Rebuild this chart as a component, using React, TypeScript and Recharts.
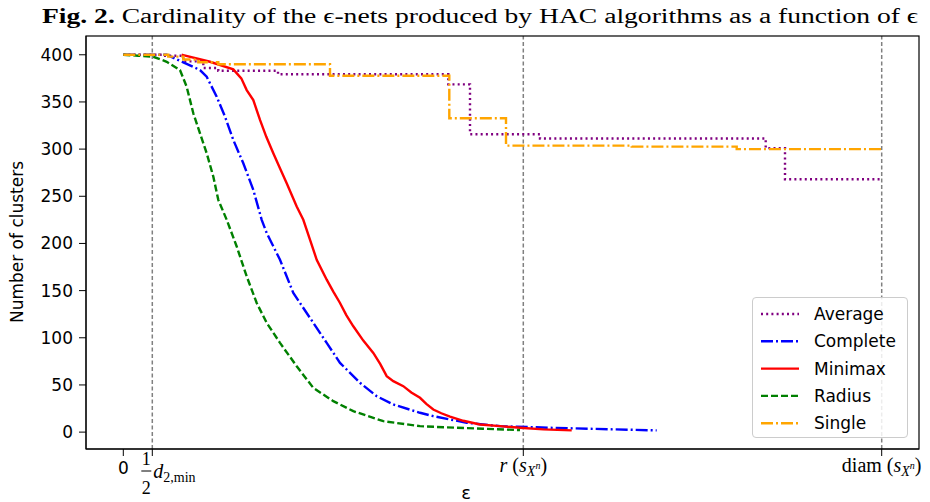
import React from 'react';
import { ComposedChart, Line, XAxis, YAxis, ReferenceLine, Legend } from 'recharts';

// ---- data (x in arbitrary epsilon units; r = 400, diam = 758.4) ----
const halfD2min = 29;
const radiusR = 400;
const diam = 758.4;

const averageX = [0, 40, 60, 80, 95, 154.7, 325, 346.7, 416.7, 642.4, 661.7, 758.4];
const averageY = [400, 399, 393, 386, 383, 379.3, 368.6, 315.8, 311.2, 301, 268, 268];

const singleX = [0, 45, 60, 75, 95, 206.7, 326, 382.7, 508.4, 613.4, 758.4];
const singleY = [400, 398, 395, 392, 390, 377.8, 332.7, 303.7, 302.6, 300, 300];

const completeX = [0, 43.4, 60, 76.7, 83.4, 93.4, 101.7, 110, 120, 130, 138.4, 143.4, 156.7, 170, 183.4, 203.4, 216.7, 236.7, 253.4, 270, 296.7, 310, 343.4, 376.7, 426.7, 533.4];
const completeY = [400, 400, 392, 383.8, 376.7, 355.6, 334.4, 309.7, 285, 256.8, 225, 211, 182.7, 147.5, 126.3, 94.6, 73.4, 52.3, 38.1, 29.3, 20.5, 16.9, 9.9, 6.3, 4.6, 1.8];

const minimaxX = [58.4, 60, 86.7, 110, 118, 123.4, 130, 136.7, 143, 150, 157, 163.4, 173.4, 180, 187, 193.4, 203.4, 210, 216.7, 223, 230, 240, 250, 257, 263.4, 270, 280, 288, 296.7, 303, 310, 318, 326.7, 340, 356.7, 376.7, 396.7, 420, 448.4];
const minimaxY = [400, 399.7, 392.6, 384.5, 375, 362.6, 352, 330.9, 313, 295.6, 279, 263.9, 239.2, 225.1, 203, 182.7, 161.6, 149, 136.9, 124, 112.2, 97, 84, 72, 59.3, 54, 48.7, 42, 36.4, 30, 24, 20, 16.3, 12, 8.1, 6.3, 4.6, 2.9, 1.8];

const radiusX = [0, 15, 30, 43.4, 56.7, 63.4, 70, 76.7, 83.4, 90, 95, 103.4, 113.4, 123.4, 133.4, 143.4, 156.7, 173.4, 190, 210, 230, 260, 296.7, 320, 360, 396.7];
const radiusY = [400, 399, 397.9, 392.6, 383.8, 366, 338, 316.8, 295.6, 270.9, 246.2, 225.1, 196.8, 165.1, 136.9, 115.8, 94.6, 69.8, 46.9, 32.8, 22.2, 11.6, 6.3, 5.2, 3.6, 2.1];

const yTicks = [0, 50, 100, 150, 200, 250, 300, 350, 400];
const xTicks = [0, halfD2min, radiusR, diam];

const zip = (xs: number[], ys: number[]) => xs.map((x, i) => ({ x, y: ys[i] }));

const series = [
  { name: 'Average', data: zip(averageX, averageY), color: '#800080', dash: '2 3.2', type: 'stepAfter' as const },
  { name: 'Complete', data: zip(completeX, completeY), color: '#0000ff', dash: '12 3 2 3', type: 'linear' as const },
  { name: 'Minimax', data: zip(minimaxX, minimaxY), color: '#ff0000', dash: undefined, type: 'linear' as const },
  { name: 'Radius', data: zip(radiusX, radiusY), color: '#008000', dash: '7 3', type: 'linear' as const },
  { name: 'Single', data: zip(singleX, singleY), color: '#ffa500', dash: '12 3 2 3', type: 'stepAfter' as const },
];

const SANS = 'DejaVu Sans, sans-serif';
const SERIF = 'Liberation Serif, DejaVu Serif, serif';

const XTick = (props: any) => {
  const { x, y, payload } = props;
  const v = payload.value;
  if (v === 0) {
    return (
      <text x={x} y={y + 18} textAnchor="middle" fontFamily={SANS} fontSize={17} fill="#000">0</text>
    );
  }
  if (v === halfD2min) {
    return (
      <g fontFamily={SERIF} fill="#000">
        <text x={x - 6} y={y + 9} textAnchor="middle" fontSize={18}>1</text>
        <line x1={x - 11} x2={x - 1} y1={y + 15} y2={y + 15} stroke="#000" strokeWidth={1} />
        <text x={x - 6} y={y + 38} textAnchor="middle" fontSize={18}>2</text>
        <text x={x + 1} y={y + 22} fontSize={20} fontStyle="italic">d<tspan fontSize={14} fontStyle="normal" dy={4}>2,min</tspan></text>
      </g>
    );
  }
  if (v === radiusR) {
    return (
      <text x={x} y={y + 16} textAnchor="middle" fontFamily={SERIF} fontSize={20} fill="#000">
        <tspan fontStyle="italic">r</tspan>
        <tspan>&#160;(</tspan>
        <tspan fontStyle="italic">s</tspan>
        <tspan fontSize={14} fontStyle="italic" dy={4}>X</tspan>
        <tspan fontSize={10} fontStyle="italic" dy={-7}>n</tspan>
        <tspan dy={3}>)</tspan>
      </text>
    );
  }
  return (
    <text x={x} y={y + 16} textAnchor="middle" fontFamily={SERIF} fontSize={20} fill="#000">
      <tspan>diam&#160;(</tspan>
      <tspan fontStyle="italic">s</tspan>
      <tspan fontSize={14} fontStyle="italic" dy={4}>X</tspan>
      <tspan fontSize={10} fontStyle="italic" dy={-7}>n</tspan>
      <tspan dy={3}>)</tspan>
    </text>
  );
};

const LegendBox = () => (
  <div
    style={{
      width: 156,
      height: 141,
      background: 'rgba(255,255,255,0.85)',
      border: '1px solid #cccccc',
      borderRadius: 4,
      boxSizing: 'border-box',
      position: 'relative',
    }}
  >
    <svg width={156} height={141} style={{ position: 'absolute', left: 0, top: 0 }}>
      {series.map((s, i) => {
        const cy = 16 + i * 27.3;
        return (
          <g key={s.name}>
            <line x1={8} x2={46} y1={cy} y2={cy} stroke={s.color} strokeWidth={2.4} strokeDasharray={s.dash} />
            <text x={61} y={cy + 6} fontFamily={SANS} fontSize={17} fill="#000">{s.name}</text>
          </g>
        );
      })}
    </svg>
  </div>
);

export default function App() {
  return (
    <div style={{ position: 'absolute', left: 0, top: 0, width: 930, height: 502, background: '#fff' }}>
      <ComposedChart width={930} height={502} margin={{ top: 36, right: 11, bottom: 0, left: 0 }}>
        <XAxis
          type="number"
          dataKey="x"
          domain={[-37.3, 795.7]}
          ticks={xTicks}
          allowDataOverflow
          height={53}
          tickSize={7}
          tickMargin={0}
          interval={0}
          stroke="#000"
          tickLine={{ stroke: '#000' }}
          tick={<XTick />}
        />
        <YAxis
          type="number"
          dataKey="y"
          domain={[-17.9, 419.9]}
          ticks={yTicks}
          allowDataOverflow
          width={86}
          tickSize={7}
          tickMargin={6}
          interval={0}
          stroke="#000"
          tick={{ fontFamily: SANS, fontSize: 17, fill: '#000' }}
        />
        <ReferenceLine x={halfD2min} stroke="#808080" strokeWidth={1.5} strokeDasharray="4 2.5" />
        <ReferenceLine x={radiusR} stroke="#808080" strokeWidth={1.5} strokeDasharray="4 2.5" />
        <ReferenceLine x={diam} stroke="#808080" strokeWidth={1.5} strokeDasharray="4 2.5" />
        {series.map((s) => (
          <Line
            key={s.name}
            name={s.name}
            data={s.data}
            dataKey="y"
            type={s.type}
            stroke={s.color}
            strokeWidth={2.4}
            strokeDasharray={s.dash}
            dot={false}
            activeDot={false}
            isAnimationActive={false}
          />
        ))}
        <Legend
          layout="vertical"
          align="center"
          verticalAlign="middle"
          wrapperStyle={{ position: 'absolute', left: 752, top: 297, width: 156, height: 141 }}
          content={() => <LegendBox />}
        />
      </ComposedChart>
      <svg width={930} height={502} style={{ position: 'absolute', left: 0, top: 0, pointerEvents: 'none' }}>
        <rect x={86} y={36} width={833} height={413} fill="none" stroke="#000" strokeWidth={1.2} />
        <text x={42} y={23} fontFamily={SERIF} fontSize={20} fill="#000" textLength={876} lengthAdjust="spacingAndGlyphs">
          <tspan fontWeight="bold">Fig. 2.</tspan>
          <tspan> Cardinality of the ϵ-nets produced by HAC algorithms as a function of ϵ</tspan>
        </text>
        <text x={18} y={242} transform="rotate(-90 18 242)" textAnchor="middle" dominantBaseline="middle" fontFamily={SANS} fontSize={17} fill="#000">
          Number of clusters
        </text>
        <text x={466} y={499} textAnchor="middle" fontFamily={SANS} fontSize={18} fill="#000">ε</text>
      </svg>
    </div>
  );
}
